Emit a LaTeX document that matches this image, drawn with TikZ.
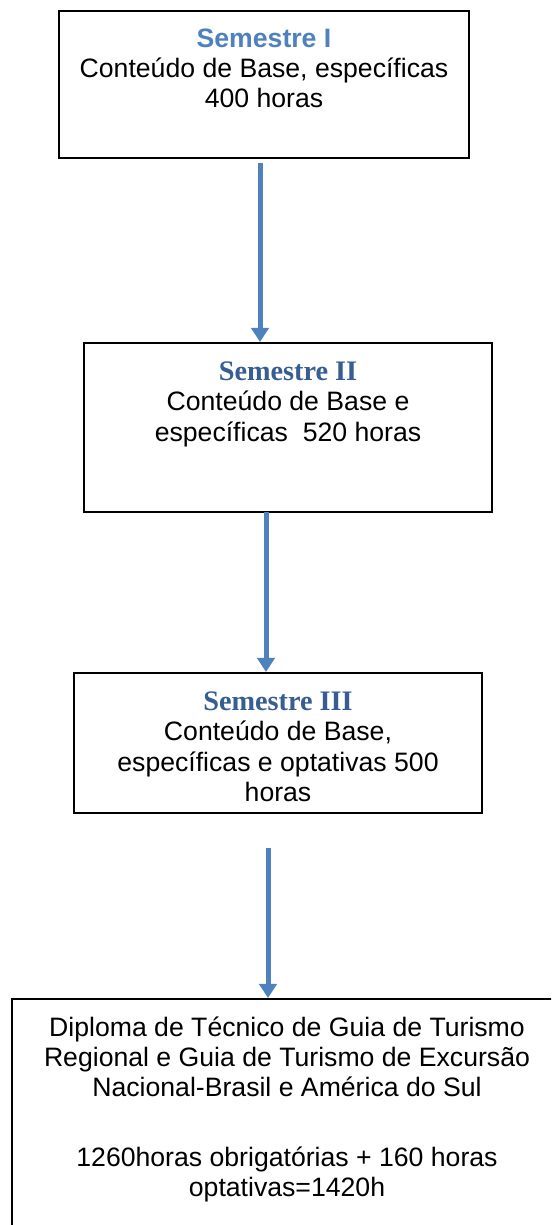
\documentclass[tikz,border=0pt]{standalone}
\usepackage{fontspec}
\setmainfont{Liberation Sans}
\newfontfamily\titleserif{Liberation Serif}
\usetikzlibrary{arrows.meta}
\definecolor{arrblue}{HTML}{4F81BD}
\definecolor{titleA}{HTML}{4F81BD}
\definecolor{titleB}{HTML}{375E92}
\tikzset{
  box/.style={draw=black, line width=0.95pt, fill=none, inner sep=0pt},
  txt/.style={align=center, inner sep=0pt, anchor=north, font=\fontsize{12.25}{14}\selectfont},
  arr/.style={draw=arrblue, line width=2.3pt, -{Triangle[width=8pt,length=6.5pt]}},
}
\begin{document}
\begin{tikzpicture}[x=0.46pt, y=-0.46pt]
\useasboundingbox (0,0) rectangle (551,1225);
\fill[white] (0,0) rectangle (551,1225);
\clip (0,0) rectangle (551,1225);
% boxes
\node[box, minimum width=410*0.46pt, minimum height=147*0.46pt] (s1) at (264,84.5) {};
\node[box, minimum width=408*0.46pt, minimum height=169*0.46pt] (s2) at (288,427.5) {};
\node[box, minimum width=408*0.46pt, minimum height=140*0.46pt] (s3) at (278,743) {};
\node[box, minimum width=550*0.46pt, minimum height=260*0.46pt] (s4) at (287,1129) {};
% texts
\node[txt] (t1) at (264,28) {{\bfseries\color{titleA}Semestre I}\\Conteúdo de Base, específicas\\400 horas};
\node[txt] (t2) at (288,361) {{\titleserif\bfseries\fontsize{13}{14}\selectfont\color{titleB}Semestre II}\\Conteúdo de Base e\\específicas~~520 horas};
\node[txt] (t3) at (278,691) {{\titleserif\bfseries\fontsize{13}{14}\selectfont\color{titleB}Semestre III}\\Conteúdo de Base,\\específicas e optativas 500\\horas};
\node[txt] (t4) at (287,1016) {Diploma de Técnico de Guia de Turismo\\Regional e Guia de Turismo de Excursão\\Nacional-Brasil e América do Sul\\[18pt]1260horas obrigatórias + 160 horas\\optativas=1420h};
% connectors
\coordinate (a1) at (260,163);
\coordinate (a2) at (266,512);
\coordinate (a3) at (268,848);
\draw[arr] (a1) -- (s2.north -| a1);
\draw[arr] (a2) -- (s3.north -| a2);
\draw[arr] (a3) -- (s4.north -| a3);
\end{tikzpicture}
\end{document}
